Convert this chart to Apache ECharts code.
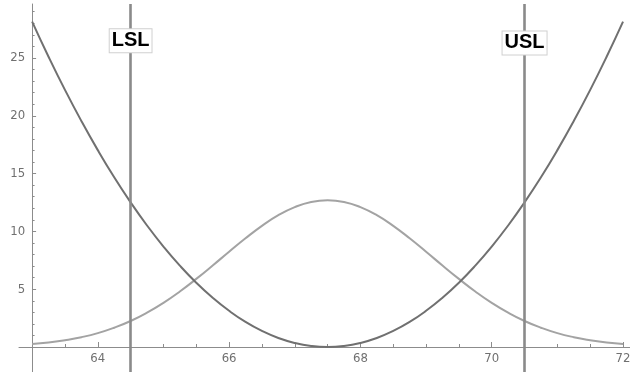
<!DOCTYPE html>
<html>
<head>
<meta charset="utf-8">
<script src="https://cdn.jsdelivr.net/npm/echarts@6/dist/echarts.min.js"></script>
<style>
html,body{margin:0;padding:0;background:#fff;}
#chart{width:637px;height:372px;}
</style>
</head>
<body>
<div id="chart"></div>
<script>
// x sample positions
var xs = [63, 63.25, 63.5, 63.75, 64, 64.25, 64.5, 64.75, 65, 65.25, 65.5, 65.75, 66, 66.25, 66.5, 66.75, 67, 67.25, 67.5,
          67.75, 68, 68.25, 68.5, 68.75, 69, 69.25, 69.5, 69.75, 70, 70.25, 70.5, 70.75, 71, 71.25, 71.5, 71.75, 72];
// quadratic loss curve (dark)
var lossValues = [28.15, 25.11, 22.24, 19.55, 17.03, 14.68, 12.51, 10.51, 8.69, 7.04, 5.56, 4.26, 3.13, 2.17, 1.39, 0.78, 0.35, 0.09, 0,
                  0.09, 0.35, 0.78, 1.39, 2.17, 3.13, 4.26, 5.56, 7.04, 8.69, 10.51, 12.51, 14.68, 17.03, 19.55, 22.24, 25.11, 28.15];
// bell curve (light)
var bellValues = [0.26, 0.39, 0.59, 0.85, 1.20, 1.67, 2.25, 2.97, 3.82, 4.80, 5.89, 7.05, 8.24, 9.40, 10.48, 11.40, 12.10, 12.55, 12.70,
                  12.55, 12.10, 11.40, 10.48, 9.40, 8.24, 7.05, 5.89, 4.80, 3.82, 2.97, 2.25, 1.67, 1.20, 0.85, 0.59, 0.39, 0.26];
var lsl = 64.5, usl = 70.5;
var limitNames = ['LSL', 'USL'];
var xMajorTicks = [64, 66, 68, 70, 72];
var xMinorTicks = [63, 63.5, 64.5, 65, 65.5, 66.5, 67, 67.5, 68.5, 69, 69.5, 70.5, 71, 71.5];
var yMajorTicks = [5, 10, 15, 20, 25];
var yMinorTicks = [1, 2, 3, 4, 6, 7, 8, 9, 11, 12, 13, 14, 16, 17, 18, 19, 21, 22, 23, 24, 26, 27, 28, 29];

var X_MIN = 62.8, X_MAX = 72.1, Y_MIN = -2.16, Y_MAX = 29.67;
var axisColor = '#8c8c8c';
var labelColor = '#707070';
var labelFont = '"DejaVu Sans Condensed", "Liberation Sans Narrow", "Liberation Sans", Arial, sans-serif';

function pairs(v){ return xs.map(function(x,i){ return [x, v[i]]; }); }

var chart = echarts.init(document.getElementById('chart'), null, {renderer:'canvas'});

function xAxisDef(ticks, len, showLine, showLabels){
  return {
    gridIndex:0, type:'value', min:X_MIN, max:X_MAX, position:'bottom',
    axisLine:{show:showLine, onZero:false, lineStyle:{color:axisColor, width:1}},
    axisTick:{show:true, inside:true, length:len, customValues:ticks, lineStyle:{color:axisColor}},
    axisLabel:{show:showLabels, customValues: showLabels ? ticks : [], color:labelColor, fontSize:13, fontFamily:labelFont, margin:5},
    splitLine:{show:false}
  };
}
function yAxisDef(ticks, len, showLabels){
  return {
    gridIndex:0, type:'value', min:0, max:Y_MAX, position:'left', offset:-13.1,
    axisLine:{show:false},
    axisTick:{show:true, inside:true, length:len, customValues:ticks, lineStyle:{color:axisColor}},
    axisLabel:{show:showLabels, customValues: showLabels ? ticks : [], color:labelColor, fontSize:13, fontFamily:labelFont, margin:7},
    splitLine:{show:false}
  };
}

function limitLabel(name, x, y){
  return {
    coord:[x, y], symbol:'rect', symbolSize:0,
    label:{show:true, position:'inside', formatter:name, color:'#000', fontWeight:'bold', fontSize:20,
           fontFamily:'"Liberation Sans", Arial, sans-serif',
           backgroundColor:'#fff', borderColor:'#d0d0d0', borderWidth:1, padding:[2,2,1,2]}
  };
}

chart.setOption({
  animation:false,
  backgroundColor:'#fff',
  grid:[
    {left:19, right:7.4, top:4, bottom:25, containLabel:false, outerBoundsMode:'none'},
    {left:19, right:7.4, top:4, bottom:0, containLabel:false, outerBoundsMode:'none'}
  ],
  xAxis:[
    xAxisDef(xMajorTicks, 5, true, true),
    xAxisDef(xMinorTicks, 3, false, false),
    {gridIndex:1, type:'value', min:X_MIN, max:X_MAX, show:false}
  ],
  yAxis:[
    yAxisDef(yMajorTicks, 4, true),
    yAxisDef(yMinorTicks, 2.5, false),
    {gridIndex:1, type:'value', min:Y_MIN, max:Y_MAX, position:'left', offset:-13.1,
     axisLine:{show:true, onZero:false, lineStyle:{color:axisColor, width:1}},
     axisTick:{show:false}, axisLabel:{show:false}, splitLine:{show:false}}
  ],
  series:[
    {
      type:'line', name:'limits', xAxisIndex:2, yAxisIndex:2, data:[], z:2,
      markLine:{
        silent:true, symbol:['none','none'], label:{show:false},
        lineStyle:{color:'#8a8a8a', width:2.6, type:'solid'},
        data:[{xAxis:lsl},{xAxis:usl}]
      },
      markPoint:{
        silent:true, z:10,
        data:[limitLabel(limitNames[0], lsl, 26.5), limitLabel(limitNames[1], usl, 26.3)]
      }
    },
    {
      type:'line', name:'bell', xAxisIndex:0, yAxisIndex:0, data:pairs(bellValues), smooth:true, showSymbol:false, symbol:'none',
      lineStyle:{color:'#a3a3a3', width:2}, z:3
    },
    {
      type:'line', name:'loss', xAxisIndex:0, yAxisIndex:0, data:pairs(lossValues), smooth:true, showSymbol:false, symbol:'none',
      lineStyle:{color:'#707070', width:2}, z:4
    }
  ]
});
</script>
</body>
</html>
